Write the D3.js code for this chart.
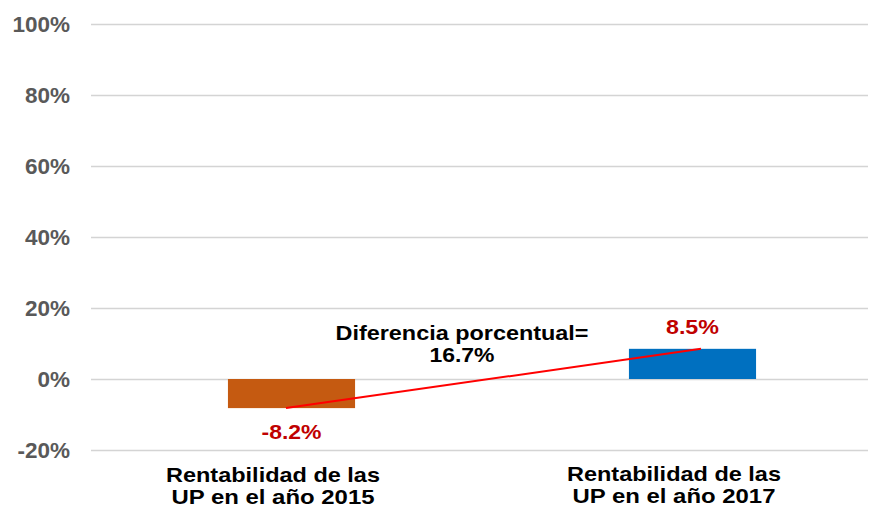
<!DOCTYPE html>
<html>
<head>
<meta charset="utf-8">
<script src="https://cdn.jsdelivr.net/npm/d3@7"></script>
<style>
  html, body { margin: 0; padding: 0; background: #fff; }
  svg { display: block; font-family: Arial, "Liberation Sans", sans-serif; font-weight: bold; }
</style>
</head>
<body>
<svg id="chart" width="881" height="508"></svg>
<script>
// Rentabilidad de las UP, 2015 vs 2017
const categories = [
  ["Rentabilidad de las", "UP en el año 2015"],
  ["Rentabilidad de las", "UP en el año 2017"]
];
const values = [-8.2, 8.5];
const valueLabels = ["-8.2%", "8.5%"];
const barColors = ["#c55a11", "#0070c0"];
const yTicks = [-20, 0, 20, 40, 60, 80, 100];
const diffLabel = ["Diferencia porcentual=", "16.7%"];

const svg = d3.select("#chart");
const W = 881, H = 508;
const plot = { left: 91, right: 868, top: 24, bottom: 450 };

const x = d3.scaleBand()
  .domain(d3.range(categories.length))
  .range([88, 896])
  .paddingInner(0.683)
  .paddingOuter(0.349);

const y = d3.scaleLinear()
  .domain([-20, 100])
  .range([plot.bottom, plot.top]);

// horizontal gridlines
svg.append("g")
  .selectAll("line")
  .data(yTicks)
  .join("line")
  .attr("x1", plot.left)
  .attr("x2", plot.right)
  .attr("y1", d => Math.round(y(d)) + 0.5)
  .attr("y2", d => Math.round(y(d)) + 0.5)
  .attr("stroke", "#d4d4d4")
  .attr("stroke-width", 1.5);

// y axis labels
const yAxis = d3.axisLeft(y)
  .tickValues(yTicks)
  .tickFormat(d => d + "%")
  .tickSize(0)
  .tickPadding(0);
const gy = svg.append("g")
  .attr("transform", `translate(70,0)`)
  .call(yAxis);
gy.select(".domain").remove();
gy.selectAll("text")
  .attr("fill", "#595959")
  .attr("font-size", 22.5)
  .attr("font-family", "Arial, 'Liberation Sans', sans-serif")
  .attr("font-weight", "bold")
  .attr("dy", "0.35em");

// bars
svg.append("g")
  .selectAll("rect")
  .data(values)
  .join("rect")
  .attr("x", (d, i) => x(i))
  .attr("width", x.bandwidth())
  .attr("y", d => y(Math.max(0, d)))
  .attr("height", d => Math.abs(y(d) - y(0)))
  .attr("fill", (d, i) => barColors[i]);

// difference connector
const cx = i => x(i) + x.bandwidth() / 2;
svg.append("line")
  .attr("x1", cx(0) - 5.5)
  .attr("y1", y(values[0]))
  .attr("x2", cx(1) + 8.5)
  .attr("y2", y(values[1]))
  .attr("stroke", "#ff0000")
  .attr("stroke-width", 2);

// value labels
svg.append("g")
  .selectAll("text")
  .data(values)
  .join("text")
  .attr("x", (d, i) => cx(i))
  .attr("y", d => d < 0 ? y(d) + 31 : y(d) - 15)
  .attr("text-anchor", "middle")
  .attr("font-size", 21)
  .attr("fill", "#c00000")
  .attr("textLength", (d, i) => i === 0 ? 60 : 53)
  .attr("lengthAdjust", "spacingAndGlyphs")
  .text((d, i) => valueLabels[i]);

// difference annotation
svg.append("g")
  .selectAll("text")
  .data(diffLabel)
  .join("text")
  .attr("x", 462)
  .attr("y", (d, i) => 340 + i * 22)
  .attr("text-anchor", "middle")
  .attr("font-size", 19.5)
  .attr("fill", "#000")
  .attr("textLength", (d, i) => i === 0 ? 253 : 65)
  .attr("lengthAdjust", "spacingAndGlyphs")
  .text(d => d);

// category labels (two lines each; the right one sits a little higher)
const catTop = [482, 481];
const catLines = categories.flatMap((lines, i) => lines.map((t, j) => ({ t, i, j })));
svg.append("g")
  .selectAll("text")
  .data(catLines)
  .join("text")
  .attr("x", d => cx(d.i) - 18.5)
  .attr("y", d => catTop[d.i] + d.j * 22)
  .attr("text-anchor", "middle")
  .attr("font-size", 21)
  .attr("fill", "#000")
  .attr("textLength", d => d.j === 0 ? 214 : 203)
  .attr("lengthAdjust", "spacingAndGlyphs")
  .text(d => d.t);
</script>
</body>
</html>
